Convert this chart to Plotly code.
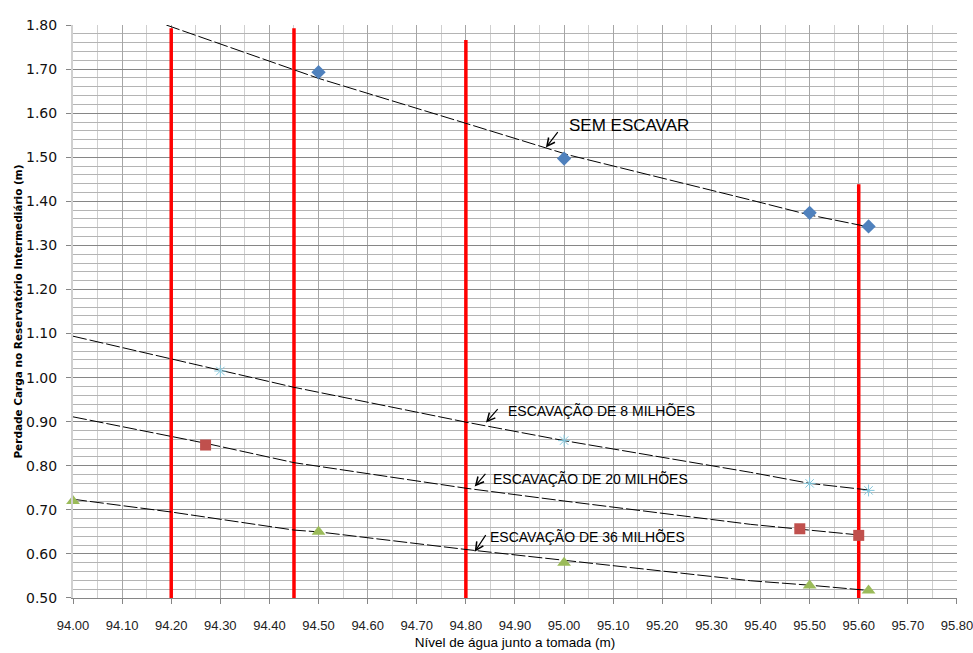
import plotly.graph_objects as go

# ---- data ----
sem_x = [94.50, 95.00, 95.50, 95.62]
sem_y = [1.693, 1.497, 1.374, 1.343]
m8_x = [94.30, 95.00, 95.50, 95.62]
m8_y = [1.015, 0.857, 0.760, 0.744]
m20_x = [94.27, 95.48, 95.60]
m20_y = [0.847, 0.657, 0.642]
m36_x = [94.00, 94.50, 95.00, 95.50, 95.62]
m36_y = [0.720, 0.650, 0.580, 0.528, 0.517]

# trend lines
sem_tx = [94.19, 94.45, 94.50, 94.80, 94.96, 95.01, 95.38, 95.50, 95.62]
sem_ty = [1.800, 1.698, 1.679, 1.577, 1.522, 1.505, 1.403, 1.369, 1.342]
m8_tx = [94.00, 94.20, 94.45, 94.80, 95.00, 95.38, 95.50, 95.62]
m8_ty = [1.094, 1.042, 0.978, 0.899, 0.857, 0.785, 0.760, 0.745]
m20_tx = [94.00, 94.20, 94.27, 94.45, 94.80, 95.00, 95.38, 95.60]
m20_ty = [0.911, 0.866, 0.851, 0.807, 0.749, 0.720, 0.667, 0.643]
m36_tx = [94.00, 94.20, 94.45, 94.50, 94.80, 95.38, 95.50, 95.62]
m36_ty = [0.724, 0.695, 0.654, 0.650, 0.610, 0.539, 0.529, 0.517]

# red vertical reference lines
red_x = [94.20, 94.45, 94.80, 95.60]
red_top = [1.793, 1.793, 1.766, 1.439]
red_bottom = 0.50

x_ticks = [round(94.0 + 0.1 * i, 2) for i in range(19)]
y_ticks = [round(0.5 + 0.1 * i, 2) for i in range(14)]

labels = ["SEM ESCAVAR", "ESCAVAÇÃO DE 8 MILHÕES", "ESCAVAÇÃO DE 20 MILHÕES", "ESCAVAÇÃO DE 36 MILHÕES"]

fig = go.Figure()

# red lines
for rx, rt in zip(red_x, red_top):
    fig.add_trace(go.Scatter(x=[rx, rx], y=[red_bottom, rt], mode="lines",
                             line=dict(color="#FF0000", width=3.5), hoverinfo="skip", showlegend=False))

# trend lines
for tx, ty in [(sem_tx, sem_ty), (m8_tx, m8_ty), (m20_tx, m20_ty), (m36_tx, m36_ty)]:
    fig.add_trace(go.Scatter(x=tx, y=ty, mode="lines",
                             line=dict(color="black", width=1, dash="14px,3px"),
                             hoverinfo="skip", showlegend=False))

# markers
fig.add_trace(go.Scatter(x=sem_x, y=sem_y, mode="markers", cliponaxis=False,
                         marker=dict(symbol="diamond", size=11, color="#4F81BD"), showlegend=False))
fig.add_trace(go.Scatter(x=m8_x, y=m8_y, mode="markers", cliponaxis=False,
                         marker=dict(symbol="asterisk-open", size=10, color="#86C8DD",
                                     line=dict(color="#86C8DD", width=1)), showlegend=False))
fig.add_trace(go.Scatter(x=m20_x, y=m20_y, mode="markers", cliponaxis=False,
                         marker=dict(symbol="square", size=11, color="#C0504D"), showlegend=False))
fig.add_trace(go.Scatter(x=m36_x, y=m36_y, mode="markers", cliponaxis=False,
                         marker=dict(symbol="triangle-up", size=12, color="#9BBB59"), showlegend=False))

label_font = "Liberation Sans, Arial, sans-serif"
# arrows: (tip x, tip y, ax, ay)
arrows = [(94.963, 1.522, 13, -17), (94.841, 0.898, 13, -15),
          (94.818, 0.753, 12, -14), (94.818, 0.605, 12, -18)]
texts = [(95.005, 1.571, 17), (94.881, 0.925, 14), (94.852, 0.769, 14), (94.846, 0.639, 14)]
for (axx, ayy, dx, dy), (tx, ty, fs), lab in zip(arrows, texts, labels):
    fig.add_annotation(x=axx, y=ayy, ax=dx, ay=dy, axref="pixel", ayref="pixel",
                       text="", showarrow=True, arrowhead=5, arrowsize=1.3, arrowwidth=1.2,
                       arrowcolor="black", standoff=0)
    fig.add_annotation(x=tx, y=ty, text=lab, showarrow=False, xanchor="left", yanchor="middle",
                       font=dict(family=label_font, size=fs, color="black"))

fig.update_layout(
    width=973, height=653,
    margin=dict(l=73, r=16, t=25, b=55),
    paper_bgcolor="white", plot_bgcolor="white",
    showlegend=False,
)
fig.update_xaxes(
    range=[94.0, 95.8001], tickvals=x_ticks, ticktext=[f"{v:.2f}" for v in x_ticks],
    automargin=False, ticklabeloverflow="allow",
    showgrid=True, gridcolor="#A6A6A6", gridwidth=1,
    minor=dict(dtick=0.05, tick0=94.0, showgrid=True, gridcolor="#CFCFCF", gridwidth=1),
    ticks="outside", ticklen=5, tickcolor="#868686", ticklabelstandoff=10,
    showline=True, linecolor="#868686", linewidth=1,
    zeroline=False,
    tickfont=dict(family="Liberation Sans, Arial, sans-serif", size=13, color="#222222"),
    title=dict(text="Nível de água junto a tomada (m)", standoff=5,
               font=dict(family=label_font, size=13.5, color="black")),
)
fig.update_yaxes(
    range=[0.4999, 1.8001], tickvals=y_ticks, ticktext=[f"{v:.2f}" for v in y_ticks],
    automargin=False,
    showgrid=True, gridcolor="#868686", gridwidth=1,
    minor=dict(dtick=0.02, tick0=0.5, showgrid=True, gridcolor="#B4B4B4", gridwidth=1),
    ticks="outside", ticklen=5, tickcolor="#868686", ticklabelstandoff=6,
    showline=True, linecolor="#D0D0D0", linewidth=2,
    zeroline=False,
    tickfont=dict(family="DejaVu Sans, Verdana, sans-serif", size=14, color="#111111"),
    title=dict(text="<b>Perdade Carga no Reservatório Intermediário (m)</b>", standoff=1,
               font=dict(family="DejaVu Sans, Verdana, sans-serif", size=10.5, color="black")),
)

fig.write_html("out.html")
